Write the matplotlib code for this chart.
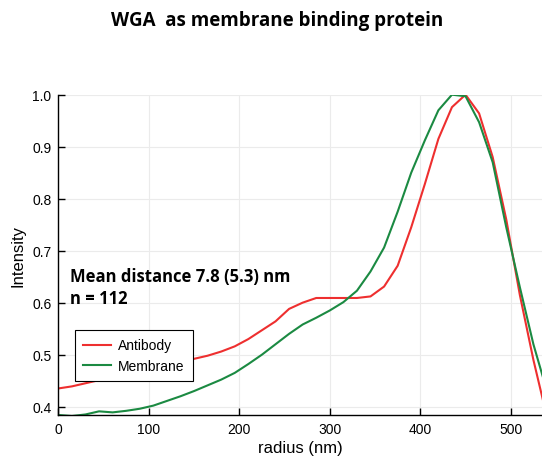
import matplotlib
matplotlib.use("Agg")
from matplotlib import pyplot as plt

# radial profile, sampled every 15 nm
radius = [0, 15, 30, 45, 60, 75, 90, 105, 120, 135, 150, 165, 180, 195,
          210, 225, 240, 255, 270, 285, 300, 315, 330, 345, 360, 375, 390,
          405, 420, 435, 450, 465, 480, 495, 510, 525, 540]

antibody = [0.435, 0.439, 0.445, 0.451, 0.457, 0.463, 0.469, 0.475, 0.480,
            0.486, 0.492, 0.498, 0.506, 0.516, 0.530, 0.547, 0.564, 0.588,
            0.600, 0.609, 0.609, 0.609, 0.609, 0.612, 0.631, 0.671, 0.745,
            0.828, 0.915, 0.976, 1.000, 0.964, 0.880, 0.760, 0.615, 0.490,
            0.380]

membrane = [0.384, 0.382, 0.385, 0.391, 0.389, 0.392, 0.396, 0.402, 0.411,
            0.420, 0.430, 0.441, 0.452, 0.465, 0.482, 0.500, 0.520, 0.540,
            0.558, 0.571, 0.585, 0.601, 0.623, 0.660, 0.706, 0.775, 0.850,
            0.912, 0.970, 1.000, 0.997, 0.947, 0.870, 0.745, 0.630, 0.520,
            0.430]

series_names = ["Antibody", "Membrane"]
title = "WGA  as membrane binding protein"
note_lines = ["Mean distance 7.8 (5.3) nm", "n = 112"]

plt.rcParams["font.family"] = ["Liberation Sans", "DejaVu Sans"]

fig = plt.figure(figsize=(5.42, 4.60), dpi=100)
ax = fig.add_axes([0.1076, 0.0957, 0.8924, 0.6963])

ax.plot(radius, antibody, color="#ee2f2f", lw=1.5, label=series_names[0])
ax.plot(radius, membrane, color="#1b8a42", lw=1.5, label=series_names[1])

ax.set_xlim(0, 534.5)
ax.set_ylim(0.384, 1.0)
ax.set_xticks([0, 100, 200, 300, 400, 500])
ax.set_yticks([0.4, 0.5, 0.6, 0.7, 0.8, 0.9, 1.0])
ax.set_yticklabels(["0.4", "0.5", "0.6", "0.7", "0.8", "0.9", "1.0"])
ax.tick_params(direction="in", length=5, width=1, labelsize=10, pad=5)
ax.grid(True, color="#ebebeb", lw=0.8)
ax.set_axisbelow(True)
for side in ["top", "right"]:
    ax.spines[side].set_visible(False)
for side in ["left", "bottom"]:
    ax.spines[side].set_linewidth(1.0)

ax.set_xlabel("radius (nm)", fontsize=12, labelpad=3)
ax.set_ylabel("Intensity", fontsize=12, labelpad=5)

ax.text(0.024, 0.434, note_lines[0], transform=ax.transAxes, fontsize=12,
        fontweight="bold", family="Open Sans", va="center", ha="left")
ax.text(0.024, 0.366, note_lines[1], transform=ax.transAxes, fontsize=12,
        fontweight="bold", family="Open Sans", va="center", ha="left")

leg = ax.legend(loc="upper left", bbox_to_anchor=(0.0345, 0.265),
                borderaxespad=0, fontsize=10, fancybox=False, framealpha=1,
                edgecolor="black", borderpad=0.6, handlelength=2.0,
                handletextpad=0.5, labelspacing=0.45)
leg.get_frame().set_linewidth(0.8)

fig.text(0.511, 0.955, title, fontsize=13.5, fontweight="bold",
         family="Open Sans", ha="center", va="center")

fig.savefig("out.png", dpi=100)
